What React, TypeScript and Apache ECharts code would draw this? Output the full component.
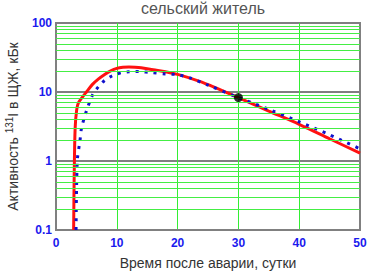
import React, { useEffect, useRef } from "react";
import * as echarts from "echarts";

const redDays = [2.9, 3.0, 3.15, 3.4, 3.7, 4.5, 5, 6, 7, 8, 9, 10, 11, 12, 13, 14, 16, 18, 20, 23.5, 26, 30, 35, 40, 45, 50];
const redValues = [0.1, 0.7, 3, 5.5, 7, 8.8, 10, 12.9, 15.5, 18, 20.3, 22, 22.8, 23, 22.9, 22.5, 21, 19.7, 18, 14.4, 11.8, 8.3, 5.3, 3.4, 2.1, 1.3];

const blueDays = [3.3, 3.5, 3.95, 4.2, 5, 6, 7, 8, 9, 10, 11, 12, 13, 14, 15.5, 18, 20, 22, 25, 30, 35, 40, 45, 50];
const blueValues = [0.1, 1, 2, 3, 5.3, 9, 12, 14.7, 16.7, 18.2, 19.2, 19.7, 19.8, 19.7, 19.2, 18.3, 17.8, 16, 12.6, 8.3, 5.6, 3.7, 2.4, 1.5];

const pointDay = [30];
const pointValue = [8.3];

const xTicks = [0, 10, 20, 30, 40, 50];
const yTicks = [0.1, 1, 10, 100];
const minorGrid = [0.2, 0.3, 0.4, 0.5, 0.6, 0.7, 0.8, 0.9, 2, 3, 4, 5, 6, 7, 8, 9, 20, 30, 40, 50, 60, 70, 80, 90];

const titleText = "сельский житель";
const xName = "Время после аварии, сутки";

const FONT = "Liberation Sans, Arial, sans-serif";

export default function App() {
  const ref = useRef<HTMLDivElement>(null);
  useEffect(() => {
    if (!ref.current) return;
    const chart = echarts.init(ref.current, undefined, { renderer: "svg" });
    const pairs = (xs: number[], ys: number[]) => xs.map((x, i) => [x, ys[i]]);
    chart.setOption({
      animation: false,
      backgroundColor: "#ffffff",
      graphic: [
        {
          type: "text",
          x: 203,
          y: 8,
          style: {
            text: titleText,
            textAlign: "center",
            textVerticalAlign: "middle",
            fontSize: 16,
            fontFamily: FONT,
            fill: "#555555",
          },
        },
      ],
      grid: {
        left: 56,
        right: 11,
        top: 23,
        bottom: 41,
        containLabel: false,
        outerBoundsMode: "none",
        show: true,
        borderColor: "#808080",
        borderWidth: 2,
        backgroundColor: "#ffffff",
      },
      xAxis: {
        type: "value",
        min: 0,
        max: 50,
        interval: 10,
        name: xName,
        nameLocation: "middle",
        nameGap: 26,
        nameTextStyle: { fontSize: 14, color: "#333333", fontFamily: FONT },
        axisLine: { show: true, lineStyle: { color: "#808080", width: 2 } },
        axisTick: { show: false },
        axisLabel: {
          margin: 7,
          color: "#1a1aee",
          fontWeight: "bold",
          fontSize: 12,
          fontFamily: FONT,
          customValues: xTicks,
        },
        splitLine: { show: true, showMinLine: false, showMaxLine: false, lineStyle: { color: "#33ee33", width: 1 } },
      },
      yAxis: {
        type: "log",
        logBase: 10,
        min: 0.1,
        max: 100,
        name: "{a|Активность }{s|131}{a|I в ЩЖ, кБк}",
        nameLocation: "middle",
        nameGap: 34,
        nameTextStyle: {
          fontFamily: FONT,
          rich: {
            a: { fontSize: 14, color: "#333333", fontFamily: FONT },
            s: { fontSize: 10, color: "#333333", padding: [0, 0, 8, 0], fontFamily: FONT },
          },
        },
        axisLine: { show: true, lineStyle: { color: "#808080", width: 2 } },
        axisTick: { show: false },
        axisLabel: {
          margin: 4,
          color: "#1a1aee",
          fontWeight: "bold",
          fontSize: 12,
          fontFamily: FONT,
          formatter: (v: number) => {
            const t = yTicks.find((k) => Math.abs(k - v) / k < 1e-6);
            return t === undefined ? "" : String(t);
          },
        },
        splitLine: { show: true, showMinLine: false, showMaxLine: false, lineStyle: { color: "#808080", width: 2 } },
      },
      series: [
        {
          type: "line",
          data: [],
          silent: true,
          markLine: {
            silent: true,
            symbol: "none",
            label: { show: false },
            lineStyle: { color: "#44ee44", width: 1, type: "solid" },
            data: minorGrid.map((v) => ({ yAxis: v })),
          },
          z: 1,
        },
        {
          type: "line",
          name: "red",
          data: pairs(redDays, redValues),
          showSymbol: false,
          smooth: 0.3,
          lineStyle: { color: "#ff1111", width: 3 },
          z: 3,
        },
        {
          type: "line",
          name: "blue",
          data: pairs(blueDays, blueValues),
          showSymbol: false,
          smooth: 0.3,
          lineStyle: { color: "#1111cc", width: 3, type: [3, 6] },
          z: 4,
        },
        {
          type: "scatter",
          data: pairs(pointDay, pointValue),
          symbolSize: 9,
          itemStyle: { color: "#000000" },
          z: 5,
        },
      ],
    });
    return () => chart.dispose();
  }, []);
  return <div ref={ref} style={{ position: "fixed", left: 0, top: 0, width: 371, height: 271 }} />;
}
